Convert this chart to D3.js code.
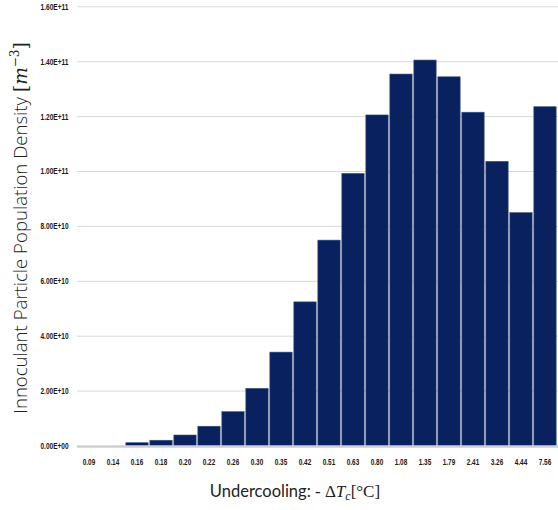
<!DOCTYPE html>
<html><head><meta charset="utf-8">
<script src="https://cdn.jsdelivr.net/npm/d3@7"></script>
<style>body{margin:0;background:#fff}svg{display:block}</style>
</head><body>
<svg id="c" width="558" height="510"></svg>
<script>
const categories = ["0.09","0.14","0.16","0.18","0.20","0.22","0.26","0.30","0.35","0.42","0.51","0.63","0.80","1.08","1.35","1.79","2.41","3.26","4.44","7.56"];
const values = [0, 0, 1.2e9, 2.1e9, 4.0e9, 7.2e9, 1.25e10, 2.1e10, 3.42e10, 5.25e10, 7.5e10, 9.93e10, 1.206e11, 1.355e11, 1.406e11, 1.345e11, 1.216e11, 1.037e11, 8.5e10, 1.236e11];
const yTicks = [0, 2e10, 4e10, 6e10, 8e10, 1e11, 1.2e11, 1.4e11, 1.6e11];
const yTickLabels = ["0.00E+00","2.00E+10","4.00E+10","6.00E+10","8.00E+10","1.00E+11","1.20E+11","1.40E+11","1.60E+11"];

(function(){
const svg = d3.select("#c");
const mLeft = 77, mRight = 557, mTop = 6.8, mBottom = 446;
const x = d3.scaleBand().domain(categories).range([mLeft, mRight]).paddingInner(0.07).paddingOuter(0.035);
const y = d3.scaleLinear().domain([0, 1.6e11]).range([mBottom, mTop]);
const tickFont = "Liberation Sans, Arial, sans-serif";

// gridlines
svg.append("g").selectAll("line").data(yTicks.slice(1)).join("line")
  .attr("x1", mLeft).attr("x2", 558).attr("y1", d => y(d)).attr("y2", d => y(d))
  .attr("stroke", "#d9d9d9").attr("stroke-width", 1);

// y tick labels
svg.append("g").selectAll("text").data(yTicks).join("text")
  .attr("x", 68.5).attr("y", d => y(d)).attr("dy", "0.35em")
  .attr("text-anchor", "end")
  .attr("font-family", tickFont)
  .attr("font-weight", "bold").attr("font-size", 8.5)
  .attr("textLength", 28).attr("lengthAdjust", "spacingAndGlyphs")
  .attr("fill", "#1a1a1a")
  .text((d, i) => yTickLabels[i]);

// bars
svg.append("g").selectAll("rect").data(values).join("rect")
  .attr("x", (d, i) => x(categories[i]))
  .attr("width", x.bandwidth())
  .attr("y", d => y(d))
  .attr("height", d => y(0) - y(d))
  .attr("fill", "#0a2160")
  .attr("stroke", "#3b5378").attr("stroke-width", 0.6);

// zero axis line
svg.append("line").attr("x1", mLeft).attr("x2", 558).attr("y1", y(0) + 0.5).attr("y2", y(0) + 0.5)
  .attr("stroke", "#cfcfcf").attr("stroke-width", 2.5);

// x tick labels
svg.append("g").selectAll("text").data(categories).join("text")
  .attr("x", d => x(d) + x.bandwidth() / 2).attr("y", 462.5).attr("dy", "0.35em")
  .attr("text-anchor", "middle")
  .attr("font-family", tickFont)
  .attr("font-weight", "bold").attr("font-size", 8.5)
  .attr("textLength", 12.5).attr("lengthAdjust", "spacingAndGlyphs")
  .attr("fill", "#1a1a1a")
  .text(d => d);

// x title
const serif = "Liberation Serif, Times New Roman, serif";
const xt = svg.append("text").attr("x", 295).attr("y", 497).attr("text-anchor", "middle")
  .attr("font-family", "Lato, sans-serif").attr("font-size", 16.5).attr("fill", "#222");
xt.append("tspan").text("Undercooling: ");
xt.append("tspan").attr("font-family", serif).attr("font-size", 17).text("- Δ");
xt.append("tspan").attr("font-family", serif).attr("font-size", 17).attr("font-style", "italic").text("T");
xt.append("tspan").attr("font-family", serif).attr("font-style", "italic").attr("font-size", 12).attr("dy", 3).text("c");
xt.append("tspan").attr("font-family", serif).attr("font-size", 17).attr("dy", -3).text("[°C]");

// y title
const yt = svg.append("text").attr("transform", "translate(27,228) rotate(-90)")
  .attr("text-anchor", "middle")
  .attr("font-family", "Open Sans, sans-serif").attr("font-weight", 300).attr("font-size", 18.6).attr("fill", "#222");
yt.append("tspan").text("Innoculant Particle Population Density ");
yt.append("tspan").attr("font-family", "DejaVu Serif, serif").text("[");
yt.append("tspan").attr("font-family", "DejaVu Serif, serif").attr("font-style", "italic").text("m");
yt.append("tspan").attr("font-family", "DejaVu Serif, serif").attr("font-size", 12).attr("dy", -8).text("−3");
yt.append("tspan").attr("font-family", "DejaVu Serif, serif").attr("dy", 8).text("]");
})();
</script>
</body></html>
